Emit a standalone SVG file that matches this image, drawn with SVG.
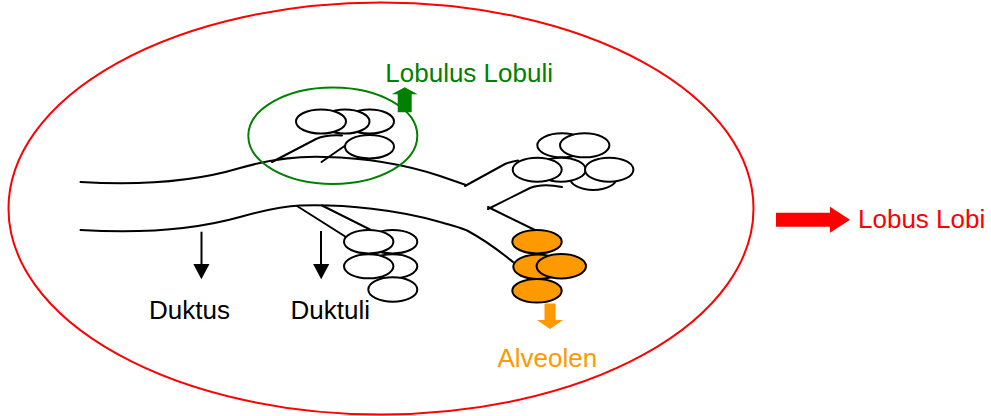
<svg xmlns="http://www.w3.org/2000/svg" width="991" height="416" viewBox="0 0 991 416">
  <style>
    .duct { fill: none; stroke: #000; stroke-width: 2; stroke-linecap: round; }
    .alv { fill: #fff; stroke: #000; stroke-width: 2; }
    .alv-o { fill: #FF9900; stroke: #000; stroke-width: 2; }
    .lbl { font-family: "Liberation Sans", Arial, sans-serif; font-size: 26px; }
  </style>

  <!-- Lobus (outer red outline) -->
  <g id="lobus">
    <ellipse cx="381" cy="208.5" rx="372.5" ry="206" fill="none" stroke="#FF0000" stroke-width="2"/>
  </g>

  <!-- Ducts and branches -->
  <g id="connectors">
    <!-- main duct, upper wall -->
    <path class="duct" d="M80.5,182 C130,185 190,183 240,168 C275,158 300,156 325,157 C370,158 410,166 440,176 L466,185"/>
    <!-- main duct, lower wall -->
    <path class="duct" d="M80.5,230 C130,233 190,231 240,217 C265,210 285,206 300,205.5 C345,204 400,210 440,222 C455,226 462,228 468,231 C490,243 503,254 513,262"/>
    <!-- branch to the upper right cluster -->
    <path class="duct" d="M465,186 L505,164 C510,162 514,161 518,160.5"/>
    <!-- branch from the fork -->
    <path class="duct" d="M488,209 L530,188 C540,184 552,185 562,187"/>
    <path class="duct" d="M488,207 L537,231"/>
    <!-- lobule branches -->
    <path class="duct" d="M272,162 L316,139 C324,135.5 333,135 342,135.5"/>
    <path class="duct" d="M321.5,162 L346,145"/>
    <!-- ductule branches -->
    <path class="duct" d="M297,206 L346,237"/>
    <path class="duct" d="M322,205.5 L370,229.5"/>
  </g>

  <!-- Lobulus (green ring with its cluster) -->
  <g id="lobulus">
    <ellipse class="alv" cx="369.5" cy="121.5" rx="24.5" ry="12"/>
    <ellipse class="alv" cx="345" cy="121.5" rx="24.5" ry="12"/>
    <ellipse class="alv" cx="321" cy="121.5" rx="25" ry="12"/>
    <ellipse class="alv" cx="369.5" cy="146.7" rx="24.5" ry="11.7"/>
    <ellipse cx="332.8" cy="135.8" rx="84.5" ry="48.2" fill="none" stroke="#008000" stroke-width="2"/>
  </g>

  <!-- cluster at the upper right branch -->
  <g id="cluster-right">
    <ellipse class="alv" cx="593.3" cy="178" rx="23.3" ry="12"/>
    <ellipse class="alv" cx="562" cy="145.3" rx="24.7" ry="12"/>
    <ellipse class="alv" cx="584.7" cy="145.3" rx="24.7" ry="12"/>
    <ellipse class="alv" cx="561" cy="169.7" rx="24.7" ry="12"/>
    <ellipse class="alv" cx="537.2" cy="169.7" rx="24.5" ry="12"/>
    <ellipse class="alv" cx="609.2" cy="169.7" rx="24.2" ry="12"/>
  </g>

  <!-- cluster at the ductules -->
  <g id="cluster-duktuli">
    <ellipse class="alv" cx="392.6" cy="241.7" rx="24.7" ry="11.7"/>
    <ellipse class="alv" cx="392.6" cy="266.3" rx="24.7" ry="12"/>
    <ellipse class="alv" cx="368.7" cy="241.7" rx="24.7" ry="11.7"/>
    <ellipse class="alv" cx="368.7" cy="266.3" rx="24.7" ry="12"/>
    <ellipse class="alv" cx="392.8" cy="289.5" rx="24.5" ry="12.2"/>
  </g>

  <!-- Alveolen (orange cluster) -->
  <g id="alveolen">
    <ellipse class="alv-o" cx="537" cy="241.7" rx="24.7" ry="11.7"/>
    <ellipse class="alv-o" cx="538" cy="266.8" rx="24.7" ry="12.3"/>
    <ellipse class="alv-o" cx="561.3" cy="266.2" rx="24.7" ry="12.2"/>
    <ellipse class="alv-o" cx="537" cy="290.8" rx="24.7" ry="11.8"/>
    <polygon fill="#FF9900" points="544.5,303.5 555.5,303.5 555.5,320 563,320 550,329 537,320 544.5,320"/>
    <text class="lbl" x="497.5" y="367" fill="#FF9900">Alveolen</text>
  </g>

  <!-- Lobulus label -->
  <g id="label-lobulus">
    <polygon fill="#008000" points="397.7,112.3 397.7,94.3 391.7,94.3 404.7,87.3 417.7,94.3 411.7,94.3 411.7,112.3"/>
    <text class="lbl" x="385.3" y="81.5" fill="#008000">Lobulus Lobuli</text>
  </g>

  <!-- Lobus label -->
  <g id="label-lobus">
    <polygon fill="#FF0000" points="776,212.7 830,212.7 830,206.7 850,219.7 830,232.7 830,226.7 776,226.7"/>
    <text class="lbl" x="858" y="228.3" fill="#FF0000">Lobus Lobi</text>
  </g>

  <!-- Duktus label -->
  <g id="label-duktus">
    <line x1="201.5" y1="231.7" x2="201.5" y2="266" stroke="#000" stroke-width="2"/>
    <polygon fill="#000" points="193.3,264 209.5,264 201.4,279.3"/>
    <text class="lbl" x="149" y="318.5" fill="#000">Duktus</text>
  </g>

  <!-- Duktuli label -->
  <g id="label-duktuli">
    <line x1="321" y1="231" x2="321" y2="266" stroke="#000" stroke-width="2"/>
    <polygon fill="#000" points="313.1,264 329.3,264 321.2,279.3"/>
    <text class="lbl" x="290.5" y="318.5" fill="#000">Duktuli</text>
  </g>
</svg>
